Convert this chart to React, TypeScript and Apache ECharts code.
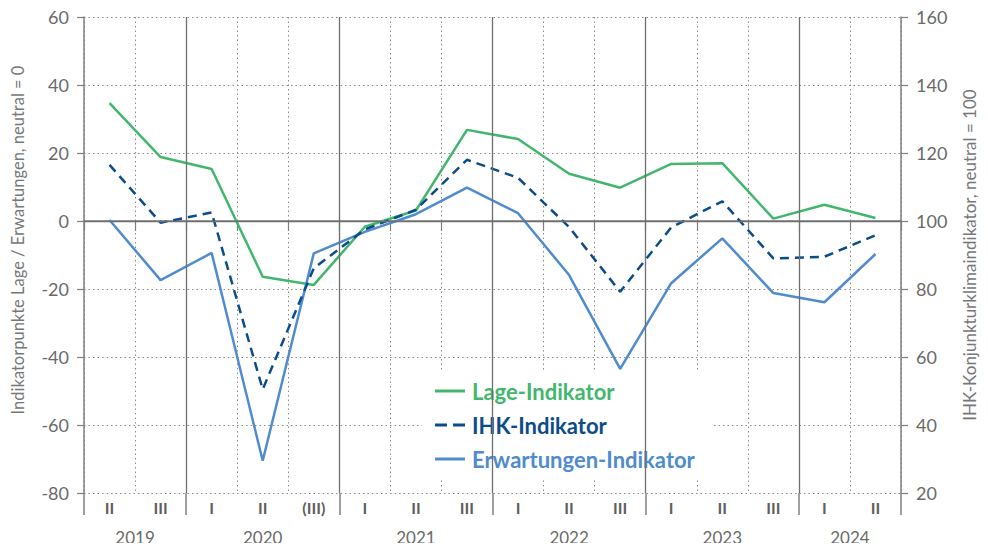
import React, { useEffect, useRef } from "react";
import * as echarts from "echarts";

const quarters = ["II", "III", "I", "II", "(III)", "I", "II", "III", "I", "II", "III", "I", "II", "III", "I", "II"];
const years = ["2019", "2020", "2021", "2022", "2023", "2024"];
const yearCenters = [1, 3.5, 6.5, 9.5, 12.5, 15];
const yearBounds = [2, 5, 8, 11, 14];
const yearTicks = [0, 2, 5, 8, 11, 14, 16];

const lage = [34.7, 18.8, 15.3, -16.4, -18.8, -1.7, 3.1, 26.8, 24.1, 13.9, 9.8, 16.8, 17.0, 0.7, 4.8, 0.9];
const ihk = [116.5, 99.5, 102.5, 50.5, 86.1, 97.5, 103.3, 118.0, 112.7, 98.2, 79.2, 98.1, 105.8, 89.0, 89.5, 95.8];
const erwartungen = [0.3, -17.4, -9.4, -70.5, -9.5, -3.2, 2.0, 9.8, 2.3, -15.9, -43.5, -18.3, -5.1, -21.2, -23.9, -9.7];

const GREEN = "#43b66e";
const DARK = "#0c4c8a";
const LIGHT = "#4f8bcd";
const AXIS = "#7f7f7f";
const LABEL = "#6a6a6a";
const FONT = "Lato, 'Open Sans', sans-serif";

const solidIcon = "path://M0,0 h30 v3 h-30 z";
const dashedIcon = "path://M0,0 h12 v3 h-12 z M18,0 h12 v3 h-12 z";

export default function App() {
  const ref = useRef<HTMLDivElement>(null);
  useEffect(() => {
    if (!ref.current) return;
    const chart = echarts.init(ref.current, undefined, { renderer: "svg" });
    chart.setOption({
      animation: false,
      textStyle: { fontFamily: FONT },
      grid: { left: 84, right: 87, top: 17, bottom: 58, containLabel: false, outerBoundsMode: "none" },
      legend: {
        orient: "vertical",
        left: 422,
        top: 370,
        padding: [10, 17, 10, 13],
        backgroundColor: "#ffffff",
        itemGap: 12,
        itemWidth: 30,
        itemHeight: 3,
        textStyle: { fontSize: 22, fontWeight: "bold", fontFamily: FONT, padding: [0, 0, 0, 2] },
        data: [
          { name: "Lage-Indikator", icon: solidIcon, textStyle: { color: GREEN } },
          { name: "IHK-Indikator", icon: dashedIcon, textStyle: { color: DARK } },
          { name: "Erwartungen-Indikator", icon: solidIcon, textStyle: { color: LIGHT } },
        ],
      },
      xAxis: [
        {
          type: "category",
          data: quarters,
          boundaryGap: true,
          position: "bottom",
          axisLine: { lineStyle: { color: AXIS, width: 1.5 } },
          axisTick: { show: true, interval: 0, length: 10, lineStyle: { color: AXIS, width: 1.2 } },
          axisLabel: { interval: 0, color: "#5f5f5f", fontSize: 16, fontWeight: "bold", margin: 6, fontFamily: FONT },
          splitLine: { show: true, interval: 0, lineStyle: { color: "#8a8a8a", type: [1.5, 3], width: 1 } },
        },
        {
          type: "value",
          min: 0,
          max: 16,
          position: "bottom",
          axisLine: { show: false },
          axisTick: { show: true, customValues: yearTicks, length: 22, lineStyle: { color: AXIS, width: 1.5 } },
          axisLabel: {
            customValues: yearCenters,
            color: LABEL,
            fontSize: 17,
            margin: 36,
            fontFamily: FONT,
            formatter: (v: number) => {
              const i = yearCenters.indexOf(v);
              return i >= 0 ? years[i] : "";
            },
          },
          splitLine: { show: false },
        },
      ],
      yAxis: [
        {
          type: "value",
          min: -80,
          max: 60,
          interval: 20,
          name: "Indikatorpunkte Lage / Erwartungen, neutral = 0",
          nameLocation: "middle",
          nameRotate: 90,
          nameGap: 58,
          nameTextStyle: { color: "#777", fontSize: 16.5, fontFamily: FONT, padding: [0, 0, 0, 30] },
          axisLine: { show: true, lineStyle: { color: AXIS, width: 1.5 } },
          axisTick: { show: true, length: 7, lineStyle: { color: AXIS, width: 1.2 } },
          axisLabel: { color: LABEL, fontSize: 18, margin: 15, fontFamily: FONT },
          splitLine: { show: true, lineStyle: { color: "#8a8a8a", type: [1.5, 3], width: 1 } },
        },
        {
          type: "value",
          min: 20,
          max: 160,
          interval: 20,
          position: "right",
          name: "IHK-Konjunkturklimaindikator, neutral = 100",
          nameLocation: "middle",
          nameRotate: 90,
          nameGap: 60,
          nameTextStyle: { color: "#777", fontSize: 17, fontFamily: FONT },
          axisLine: { show: true, lineStyle: { color: AXIS, width: 1.5 } },
          axisTick: { show: true, length: 7, lineStyle: { color: AXIS, width: 1.2 } },
          axisLabel: { color: LABEL, fontSize: 18, margin: 15, fontFamily: FONT },
          splitLine: { show: false },
        },
      ],
      series: [
        {
          name: "separators",
          type: "line",
          xAxisIndex: 1,
          yAxisIndex: 0,
          data: [],
          symbol: "none",
          silent: true,
          z: 1,
          markLine: {
            silent: true,
            symbol: ["none", "none"],
            label: { show: false },
            lineStyle: { color: "#6f6f6f", type: "solid", width: 1.3 },
            data: [...yearBounds.map((b) => ({ xAxis: b })), { yAxis: 0 }],
          },
        },
        {
          name: "Lage-Indikator",
          type: "line",
          data: lage,
          yAxisIndex: 0,
          symbol: "none",
          lineStyle: { color: GREEN, width: 2.5 },
          itemStyle: { color: GREEN },
          z: 3,
        },
        {
          name: "IHK-Indikator",
          type: "line",
          data: ihk,
          yAxisIndex: 1,
          symbol: "none",
          lineStyle: { color: DARK, width: 2.5, type: [9, 6] },
          itemStyle: { color: DARK },
          z: 4,
        },
        {
          name: "Erwartungen-Indikator",
          type: "line",
          data: erwartungen,
          yAxisIndex: 0,
          symbol: "none",
          lineStyle: { color: LIGHT, width: 2.5 },
          itemStyle: { color: LIGHT },
          z: 3,
        },
      ],
    });
    return () => chart.dispose();
  }, []);
  return <div ref={ref} style={{ width: 988, height: 551, margin: -8 }} />;
}
